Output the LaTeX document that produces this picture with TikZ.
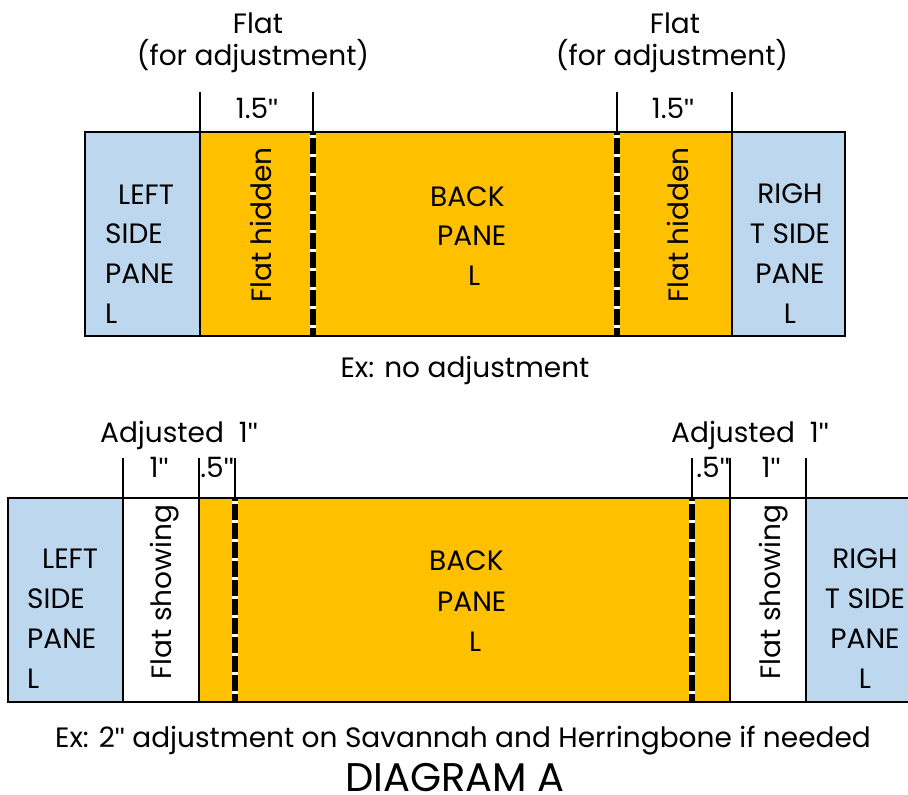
\documentclass[tikz,border=0pt]{standalone}
\usepackage{fontspec}
\setmainfont{Poppins}
\newfontfamily\quotefont{Liberation Sans}
\definecolor{paneblue}{HTML}{BDD7EE}
\definecolor{paneorange}{HTML}{FFC000}
\newcommand{\inch}{{\quotefont\char34}}
\begin{document}
\begin{tikzpicture}[x=1pt,y=-1pt,
  lbl/.style={font=\fontsize{28}{32}\selectfont, inner sep=0pt, anchor=base},
  lblw/.style={lbl, anchor=base west},
  vert/.style={lbl, rotate=90},
  big/.style={font=\fontsize{40}{44}\selectfont, inner sep=0pt, anchor=base, text depth=0pt},
  edge/.style={line width=2.5pt},
  seam/.style={line width=5.5pt},
  seamgap/.style={white, line width=5.5pt, dash pattern=on 3pt off 16pt}]
\useasboundingbox (0,0) rectangle (908,795);
% ---------- top diagram ----------
\fill[paneblue] (85,132) rectangle (200,336);
\fill[paneorange] (200,132) rectangle (732,336);
\fill[paneblue] (732,132) rectangle (845,336);
\draw[seam] (313,132) -- (313,336);
\draw[seamgap] (313,135) -- (313,336);
\draw[seam] (617,132) -- (617,336);
\draw[seamgap] (617,135) -- (617,336);
\draw[edge] (85,132) rectangle (845,336);
\draw[edge] (200,92) -- (200,336);
\draw[edge] (732,92) -- (732,336);
\draw[edge] (313,92) -- (313,132);
\draw[edge] (617,92) -- (617,132);
\node[lbl] (flat1) at (258,33) {Flat};
\node[lbl] (adj1) at (253,65) {(for adjustment)};
\node[lbl] (w1) at (257,118) {1.5\inch};
\node[lbl] (flat2) at (675,33) {Flat};
\node[lbl] (adj2) at (672,65) {(for adjustment)};
\node[lbl] (w2) at (673,118) {1.5\inch};
\node[lblw] (l1) at (118,204) {LEFT};
\node[lblw] (l2) at (105,243) {SIDE};
\node[lblw] (l3) at (105,283) {PANE};
\node[lblw] (l4) at (105,323) {L};
\node[lbl] (r1) at (790,203) {RIGH};
\node[lbl] (r2) at (790,243) {T SIDE};
\node[lbl] (r3) at (790,283) {PANE};
\node[lbl] (r4) at (790,323) {L};
\node[lblw] (b1) at (430,206) {BACK};
\node[lblw] (b2) at (437,245) {PANE};
\node[lblw] (b3) at (468,285) {L};
\node[vert] (h1) at (271,225) {Flat hidden};
\node[vert] (h2) at (688,225) {Flat hidden};
\node[lbl] (cap1) at (465,377) {Ex: no adjustment};
% ---------- bottom diagram ----------
\fill[paneblue] (8,498) rectangle (123,702);
\fill[white] (123,498) rectangle (199,702);
\fill[paneorange] (199,498) rectangle (730,702);
\fill[white] (730,498) rectangle (806,702);
\fill[paneblue] (806,498) rectangle (908,702);
\draw[seam] (235,498) -- (235,702);
\draw[seamgap] (235,501) -- (235,702);
\draw[seam] (692,498) -- (692,702);
\draw[seamgap] (692,501) -- (692,702);
\draw[edge] (908,498) -- (8,498) -- (8,702) -- (908,702);
\draw[edge] (123,458) -- (123,702);
\draw[edge] (199,458) -- (199,702);
\draw[edge] (730,458) -- (730,702);
\draw[edge] (806,458) -- (806,702);
\draw[edge] (235,458) -- (235,498);
\draw[edge] (692,458) -- (692,498);
\node[lbl] (ad1) at (179,442) {Adjusted\ \ 1\inch};
\node[lbl] (ad2) at (750,442) {Adjusted\ \ 1\inch};
\node[lbl] (s1) at (159,477) {1\inch};
\node[lbl] (s2) at (217,477) {.5\inch};
\node[lbl] (s3) at (713,477) {.5\inch};
\node[lbl] (s4) at (771,477) {1\inch};
\node[lblw] (ll1) at (42,568) {LEFT};
\node[lblw] (ll2) at (27,608) {SIDE};
\node[lblw] (ll3) at (27,648) {PANE};
\node[lblw] (ll4) at (27,688) {L};
\node[lbl] (rr1) at (865,568) {RIGH};
\node[lbl] (rr2) at (865,608) {T SIDE};
\node[lbl] (rr3) at (865,648) {PANE};
\node[lbl] (rr4) at (865,688) {L};
\node[lblw] (bb1) at (429,570) {BACK};
\node[lblw] (bb2) at (437,611) {PANE};
\node[lblw] (bb3) at (469,651) {L};
\node[vert] (fs1) at (171,592) {Flat showing};
\node[vert] (fs2) at (780,592) {Flat showing};
\node[lbl] (cap2) at (463,747) {Ex: 2\inch{} adjustment on Savannah and Herringbone if needed};
\node[big] (title) at (455,791) {DIAGRAM A};
\end{tikzpicture}
\end{document}
